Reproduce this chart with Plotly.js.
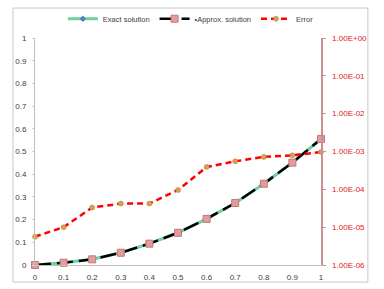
<!DOCTYPE html>
<html>
<head>
<meta charset="utf-8">
<script src="https://cdn.plot.ly/plotly-3.0.1.min.js"></script>
<style>html,body{margin:0;padding:0;background:#fff;}#chart{width:384px;height:289px;}</style>
</head>
<body>
<div id="chart"></div>
<script>
const xValues = [0, 0.1, 0.2, 0.3, 0.4, 0.5, 0.6, 0.7, 0.8, 0.9, 1.0];
const xTickText = ['0', '0.1', '0.2', '0.3', '0.4', '0.5', '0.6', '0.7', '0.8', '0.9', '1'];
const exactSolution = [0, 0.010, 0.025, 0.054, 0.094, 0.142, 0.203, 0.273, 0.358, 0.451, 0.555];
const approxSolution = [0, 0.010, 0.025, 0.054, 0.094, 0.142, 0.203, 0.273, 0.358, 0.451, 0.555];
const errorValues = [5.6e-6, 1.0e-5, 3.3e-5, 4.2e-5, 4.2e-5, 9.6e-5, 3.9e-4, 5.5e-4, 7.2e-4, 7.9e-4, 9.7e-4];
const leftTicks = [0, 0.1, 0.2, 0.3, 0.4, 0.5, 0.6, 0.7, 0.8, 0.9, 1];
const leftTickText = ['0', '0.1', '0.2', '0.3', '0.4', '0.5', '0.6', '0.7', '0.8', '0.9', '1'];
const rightTicks = [1e-6, 1e-5, 1e-4, 1e-3, 1e-2, 1e-1, 1];
const rightTickText = ['1.00E-06', '1.00E-05', '1.00E-04', '1.00E-03', '1.00E-02', '1.00E-01', '1.00E+00'];

const font = 'Liberation Sans, Arial, sans-serif';

const traces = [
  {
    x: xValues, y: exactSolution, name: 'Exact solution', type: 'scatter', mode: 'lines+markers',
    line: {color: '#6fcf9f', width: 3},
    marker: {symbol: 'diamond', size: 5, color: '#4f81bd'},
    cliponaxis: false
  },
  {
    x: xValues, y: approxSolution, name: '•Approx. solution', type: 'scatter', mode: 'lines+markers',
    line: {color: '#000000', width: 2.5, dash: '16px,6px'},
    marker: {symbol: 'square', size: 7, color: '#e39c9c', line: {color: '#c07878', width: 1}},
    cliponaxis: false
  },
  {
    x: xValues, y: errorValues, name: 'Error', type: 'scatter', mode: 'lines+markers', yaxis: 'y2',
    line: {color: '#ff0000', width: 2.5, dash: '6px,4px'},
    marker: {symbol: 'circle', size: 5, color: '#d9a050', line: {color: '#b07830', width: 0.5}},
    cliponaxis: false
  }
];

const layout = {
  width: 384, height: 289,
  margin: {l: 35, r: 63, t: 38, b: 24, pad: 0, autoexpand: false},
  paper_bgcolor: '#ffffff', plot_bgcolor: '#ffffff',
  font: {family: font, size: 8, color: '#404040'},
  showlegend: true,
  legend: {orientation: 'h', x: 0.545, xanchor: 'center', y: 1.085, yanchor: 'middle',
           font: {family: font, size: 7.5, color: '#404040'}, bgcolor: 'rgba(0,0,0,0)', itemwidth: 30, tracegroupgap: 0},
  xaxis: {
    range: [0, 1], tickvals: xValues, ticktext: xTickText, automargin: false,
    showgrid: false, zeroline: false, showline: true, linecolor: '#bfbfbf', linewidth: 1,
    ticks: '', ticklabelstandoff: 4, tickfont: {family: font, size: 8, color: '#404040'}
  },
  yaxis: {
    range: [0, 1], tickvals: leftTicks, ticktext: leftTickText, automargin: false,
    showgrid: false, zeroline: false, showline: true, linecolor: '#bfbfbf', linewidth: 1,
    ticks: 'outside', ticklen: 2, tickcolor: '#d0d0d0', ticklabelstandoff: 4,
    tickfont: {family: font, size: 8, color: '#404040'}
  },
  yaxis2: {
    type: 'log', range: [-6, 0], overlaying: 'y', side: 'right', automargin: false,
    tickvals: rightTicks, ticktext: rightTickText,
    showgrid: false, zeroline: false, showline: true, linecolor: '#c89090', linewidth: 1.5,
    ticks: 'outside', ticklen: 3, tickcolor: '#c89090', ticklabelstandoff: 5,
    tickfont: {family: font, size: 8, color: '#e02020'}
  },
  shapes: [
    {type: 'rect', xref: 'paper', yref: 'paper', x0: -0.077, x1: 1.164, y0: -0.075, y1: 1.132,
     line: {color: '#c8c8c8', width: 1}, fillcolor: 'rgba(0,0,0,0)'}
  ]
};

Plotly.newPlot('chart', traces, layout, {displayModeBar: false, staticPlot: true});
</script>
</body>
</html>
